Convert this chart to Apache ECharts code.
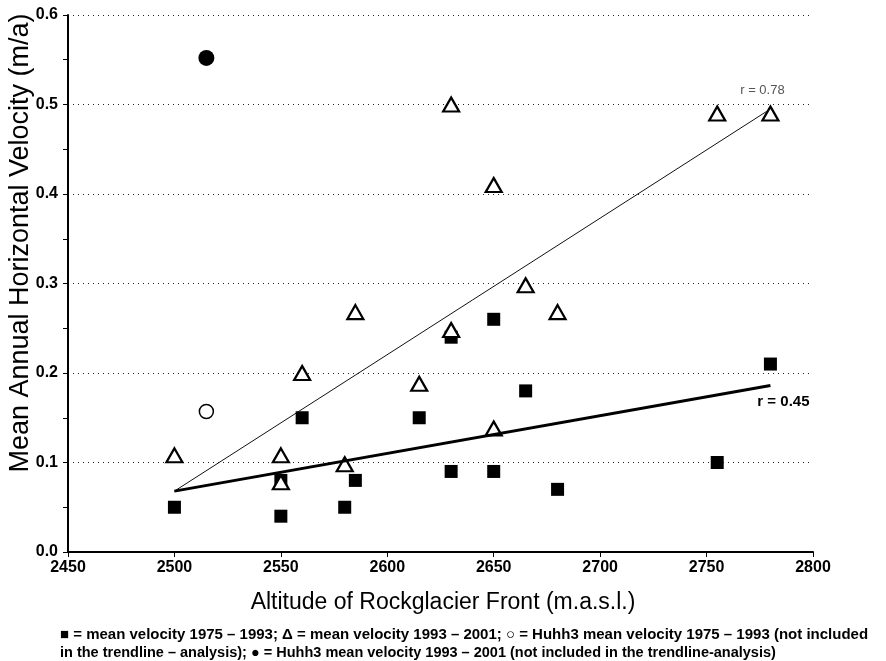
<!DOCTYPE html>
<html><head><meta charset="utf-8">
<script src="https://cdn.jsdelivr.net/npm/echarts@6/dist/echarts.min.js"></script>
<style>html,body{margin:0;padding:0;background:#fff}#c{width:886px;height:661px}</style>
</head><body><div id="c"></div>
<script>
// Altitude (m a.s.l.) and velocity (m/a)
const squares1975 = [[2500,0.05],[2550,0.04],[2550,0.08],[2560,0.15],[2580,0.05],[2585,0.08],[2615,0.15],[2630,0.24],[2630,0.09],[2650,0.26],[2650,0.09],[2665,0.18],[2680,0.07],[2755,0.10],[2780,0.21]];
const triangles1993 = [[2500,0.108],[2550,0.108],[2550,0.078],[2560,0.20],[2580,0.098],[2585,0.268],[2615,0.188],[2630,0.248],[2630,0.50],[2650,0.41],[2650,0.138],[2665,0.298],[2680,0.268],[2755,0.49],[2780,0.49]];
const huhh3_1975 = [[2515,0.157]];
const huhh3_1993 = [[2515,0.552]];
const trend1993 = [[2500,0.068],[2780,0.495]];
const trend1975 = [[2500,0.068],[2780,0.186]];
const xTicks = [2450,2500,2550,2600,2650,2700,2750,2800];
const yTicks = [0.0,0.1,0.2,0.3,0.4,0.5,0.6];

const chart = echarts.init(document.getElementById('c'));
const F = 'Liberation Sans, Arial, sans-serif';
chart.setOption({
  animation:false,
  backgroundColor:'#fff',
  grid:{left:68,right:73,top:15,bottom:109},
  xAxis:{type:'value',min:xTicks[0],max:xTicks[xTicks.length-1],interval:50,
    axisLine:{show:true,lineStyle:{color:'#000',width:2}},
    axisTick:{show:true,length:5,lineStyle:{color:'#000',width:1}},
    axisLabel:{color:'#000',fontFamily:F,fontWeight:'bold',fontSize:16,margin:8,formatter:v=>String(v)},
    splitLine:{show:false}},
  yAxis:{type:'value',min:yTicks[0],max:yTicks[yTicks.length-1],interval:0.1,
    axisLine:{show:true,lineStyle:{color:'#000',width:2}},
    axisTick:{show:true,length:5,lineStyle:{color:'#000',width:1}},
    minorTick:{show:true,splitNumber:2,length:5,lineStyle:{color:'#000',width:1}},
    axisLabel:{color:'#000',fontFamily:F,fontWeight:'bold',fontSize:16,margin:10,formatter:v=>v.toFixed(1)},
    splitLine:{show:true,lineStyle:{color:'#222',width:1,type:[1,4]}}},
  graphic:[
    {type:'text',x:443,y:603,style:{text:'Altitude of Rockglacier Front (m.a.s.l.)',font:'23px '+F,fill:'#000',align:'center',verticalAlign:'middle'}},
    {type:'text',x:21,y:243,rotation:Math.PI/2,style:{text:'Mean Annual Horizontal Velocity (m/a)',font:'27px '+F,fill:'#000',align:'center',verticalAlign:'middle'}},
    {type:'text',x:60,y:635,style:{text:'\u25A0 = mean velocity 1975 \u2013 1993; \u0394 = mean velocity 1993 \u2013 2001; \u25CB = Huhh3 mean velocity 1975 \u2013 1993 (not included',font:'bold 15px '+F,fill:'#000',verticalAlign:'middle'}},
    {type:'text',x:60,y:653,style:{text:'in the trendline \u2013 analysis); \u25CF = Huhh3 mean velocity 1993 \u2013 2001 (not included in the trendline-analysis)',font:'bold 14.5px '+F,fill:'#000',verticalAlign:'middle'}}
  ],
  series:[
    {type:'scatter',data:squares1975,symbol:'rect',symbolSize:13,itemStyle:{color:'#000',opacity:1},z:2},
    {type:'scatter',data:triangles1993,symbol:'triangle',symbolSize:[16,14],itemStyle:{color:'#fff',borderColor:'#000',borderWidth:2.2,opacity:1},z:3},
    {type:'scatter',data:huhh3_1975,symbol:'circle',symbolSize:14,itemStyle:{color:'#fff',borderColor:'#000',borderWidth:1.5,opacity:1},z:3},
    {type:'scatter',data:huhh3_1993,symbol:'circle',symbolSize:16,itemStyle:{color:'#000',opacity:1},z:3},
    {type:'line',data:trend1993,symbol:'none',lineStyle:{color:'#111',width:1},z:4,
      markPoint:{symbol:'circle',symbolSize:0,data:[{coord:trend1993[1],label:{show:true,formatter:'r = 0.78',color:'#555',fontFamily:F,fontSize:13,offset:[-8,-19]}}]}},
    {type:'line',data:trend1975,symbol:'none',lineStyle:{color:'#000',width:3},z:4,
      markPoint:{symbol:'circle',symbolSize:0,data:[{coord:trend1975[1],label:{show:true,formatter:'r = 0.45',color:'#000',fontFamily:F,fontWeight:'bold',fontSize:15,offset:[13,16]}}]}}
  ]
});
</script></body></html>
